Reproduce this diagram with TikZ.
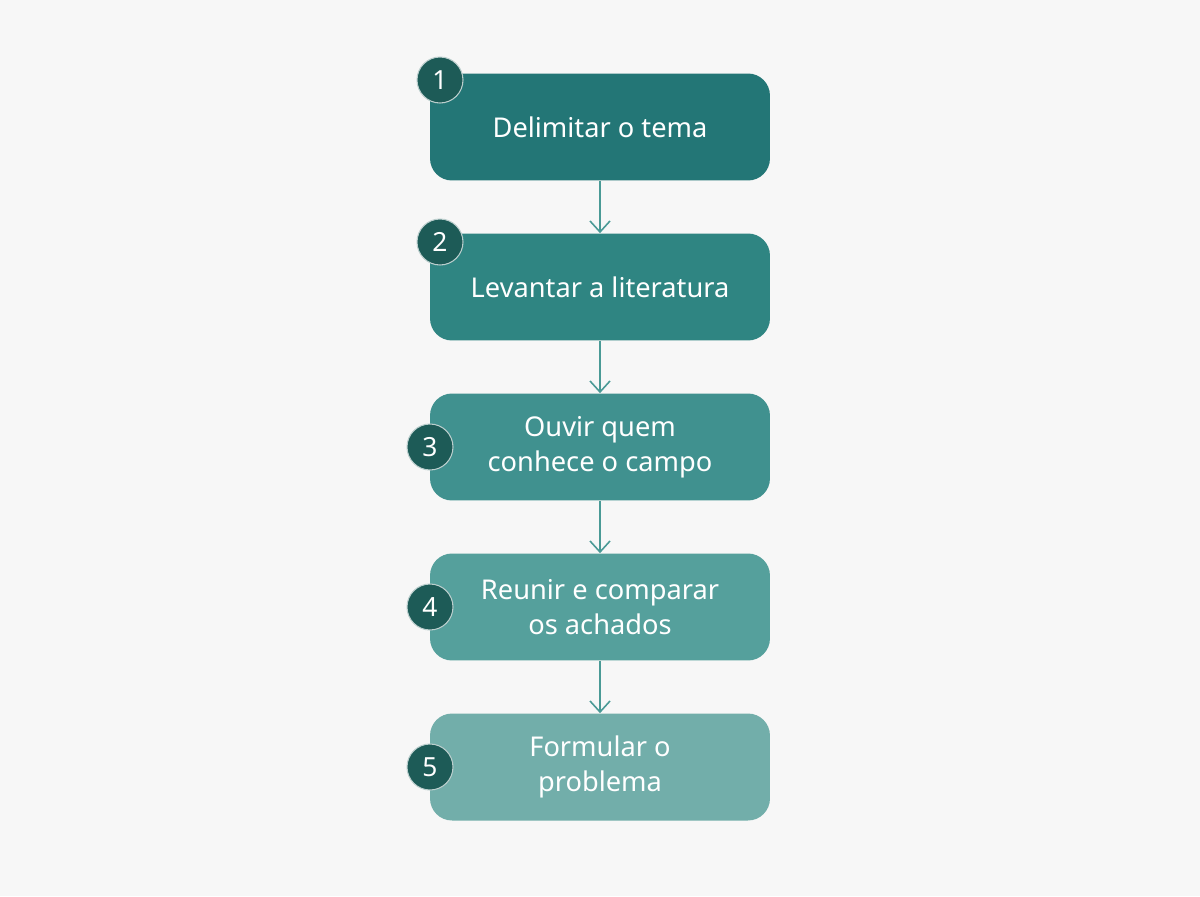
\documentclass[tikz,border=0pt]{standalone}
\usepackage{fontspec}
\setmainfont{Noto Sans}
\usetikzlibrary{arrows.meta}
\definecolor{bgc}{HTML}{F7F7F7}
\definecolor{stepA}{HTML}{237676}
\definecolor{stepB}{HTML}{2F8582}
\definecolor{stepC}{HTML}{40918F}
\definecolor{stepD}{HTML}{55A09C}
\definecolor{stepE}{HTML}{72AEAA}
\definecolor{badgec}{HTML}{1D5B57}
\definecolor{linkc}{HTML}{4A9A96}
\begin{document}
\begin{tikzpicture}[x=0.02cm,y=-0.02cm]
      % Styles
      \tikzset{stage/.style={draw=none, rounded corners=0.44cm, rectangle,
        minimum width=6.8cm, minimum height=2.14cm, text=white,
        align=center, font=\fontsize{15.5}{20}\selectfont},
        badge/.style={circle, fill=badgec, draw=white!70!badgec, line width=0.6pt,
        minimum size=0.92cm, inner sep=0pt, text=white,
        font=\fontsize{15}{18}\selectfont},
        link/.style={draw=linkc, line width=0.9pt, -{Straight Barb[length=2.2mm,width=4mm]}}}

      % Background
      \fill[bgc] (0,0) rectangle (1200,896);

      % Stages
      \node[stage, fill=stepA] (s1) at (600,127) {Delimitar o tema};
      \node[stage, fill=stepB] (s2) at (600,287) {Levantar a literatura};
      \node[stage, fill=stepC] (s3) at (600,447) {Ouvir quem\\conhece o campo};
      \node[stage, fill=stepD] (s4) at (600,607) {Reunir e comparar\\os achados};
      \node[stage, fill=stepE] (s5) at (600,767) {Formular o\\problema};

      % Badges
      \node[badge] (n1) at (440,80) {1};
      \node[badge] (n2) at (440,242) {2};
      \node[badge] (n3) at (430,447) {3};
      \node[badge] (n4) at (430,607) {4};
      \node[badge] (n5) at (430,767) {5};

      % Connections
      \draw[link] (s1) -- (s2);
      \draw[link] (s2) -- (s3);
      \draw[link] (s3) -- (s4);
      \draw[link] (s4) -- (s5);
\end{tikzpicture}
\end{document}
